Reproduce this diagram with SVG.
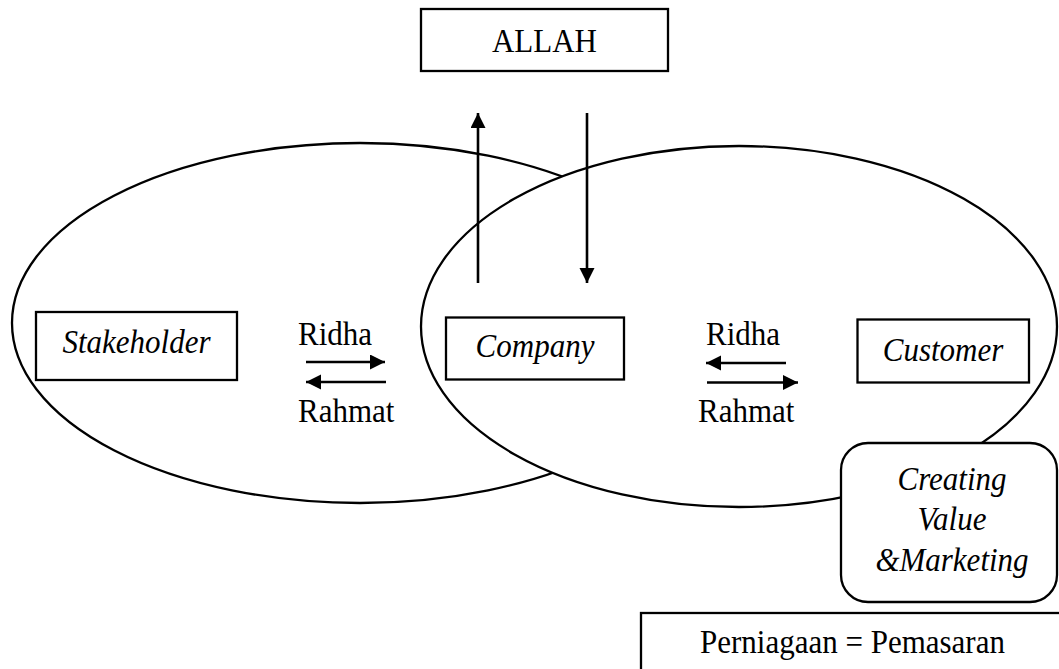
<svg xmlns="http://www.w3.org/2000/svg" width="1059" height="669" viewBox="0 0 1059 669">
  <defs>
    <marker id="ah" markerUnits="userSpaceOnUse" markerWidth="17" markerHeight="17" refX="15" refY="7.5" orient="auto">
      <path d="M0,0 L15,7.5 L0,15 z" fill="#000"/>
    </marker>
  </defs>
  <style>
    .sh { fill: #fff; stroke: #000; stroke-width: 2.3; }
    .ln { stroke: #000; stroke-width: 2.6; fill: none; marker-end: url(#ah); }
    .t { font-family: "Liberation Serif", "Times New Roman", serif; font-size: 31px; fill: #000; }
    .i { font-style: italic; }
    .m { text-anchor: middle; }
  </style>
  <rect width="1059" height="669" fill="#fff"/>

  <g id="ellipse-left">
    <ellipse class="sh" cx="360" cy="323" rx="348" ry="180"/>
  </g>
  <g id="ellipse-right">
    <ellipse class="sh" cx="739" cy="326.5" rx="318" ry="180.5"/>
  </g>

  <g id="allah">
    <rect class="sh" x="421" y="9" width="247" height="62"/>
    <text class="t m" x="544.5" y="52" transform="matrix(1,0,0,1.07,0,-3.64)">ALLAH</text>
  </g>

  <g id="stakeholder">
    <rect class="sh" x="36" y="312" width="201" height="68"/>
    <text class="t i m" x="136.5" y="353" transform="matrix(1,0,0,1.07,0,-24.71)">Stakeholder</text>
  </g>

  <g id="company">
    <rect class="sh" x="446" y="317.5" width="178" height="62"/>
    <text class="t i m" x="535" y="357.5" transform="matrix(1,0,0,1.07,0,-25.03)">Company</text>
  </g>

  <g id="customer">
    <rect class="sh" x="857.5" y="319.5" width="171.5" height="63"/>
    <text class="t i m" x="943" y="361" transform="matrix(1,0,0,1.07,0,-25.27)">Customer</text>
  </g>

  <g id="creating-value">
    <rect class="sh" x="841" y="443" width="216" height="159" rx="27" ry="27"/>
    <text class="t i m" x="952" y="490" transform="matrix(1,0,0,1.07,0,-34.3)">Creating</text>
    <text class="t i m" x="952" y="530" transform="matrix(1,0,0,1.07,0,-37.1)">Value</text>
    <text class="t i m" x="952" y="571" transform="matrix(1,0,0,1.07,0,-39.97)">&amp;Marketing</text>
  </g>

  <g id="perniagaan">
    <rect class="sh" x="641" y="613" width="430" height="80"/>
    <text class="t m" x="852.5" y="653" transform="matrix(1,0,0,1.07,0,-45.71)">Perniagaan = Pemasaran</text>
  </g>

  <g id="connectors">
    <line class="ln" x1="478" y1="283" x2="478" y2="113"/>
    <line class="ln" x1="587" y1="113" x2="587" y2="283"/>
    <line class="ln" x1="306" y1="362" x2="385" y2="362"/>
    <line class="ln" x1="386" y1="382" x2="306" y2="382"/>
    <line class="ln" x1="786" y1="363" x2="706" y2="363"/>
    <line class="ln" x1="707" y1="382.5" x2="798" y2="382.5"/>
  </g>

  <g id="labels">
    <text class="t" x="298" y="345" transform="matrix(1,0,0,1.07,0,-24.15)">Ridha</text>
    <text class="t" x="298" y="422" transform="matrix(1,0,0,1.07,0,-29.54)">Rahmat</text>
    <text class="t" x="706" y="345" transform="matrix(1,0,0,1.07,0,-24.15)">Ridha</text>
    <text class="t" x="698" y="422" transform="matrix(1,0,0,1.07,0,-29.54)">Rahmat</text>
  </g>
</svg>
